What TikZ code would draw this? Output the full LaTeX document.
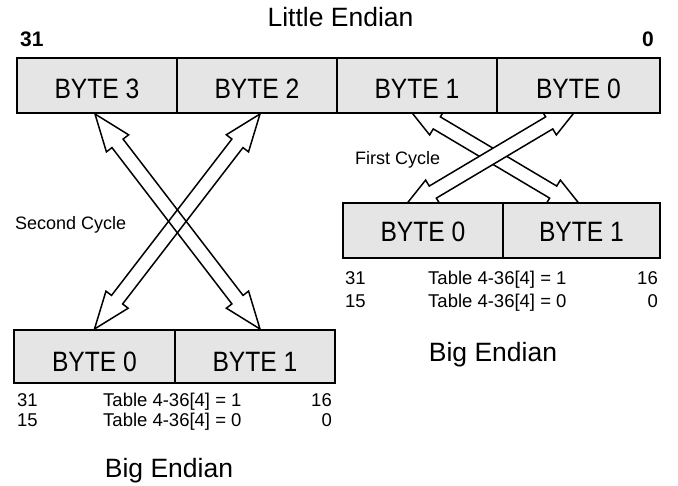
\documentclass[tikz,border=0pt]{standalone}
\usepackage{fontspec}
\setmainfont{Liberation Sans}
\newfontfamily\bytefont[FakeStretch=0.88]{Liberation Sans}
\usetikzlibrary{calc,backgrounds}

\newcommand\blockarr[3][]{%
  \draw[blockarrow,#1] (#2)
   -- ($(#2)!37pt!(#3)!14pt!90:(#3)$)
   -- ($(#2)!37pt!(#3)!7pt!90:(#3)$)
   -- ($(#3)!37pt!(#2)!7pt!-90:(#2)$)
   -- ($(#3)!37pt!(#2)!14pt!-90:(#2)$)
   -- (#3)
   -- ($(#3)!37pt!(#2)!14pt!90:(#2)$)
   -- ($(#3)!37pt!(#2)!7pt!90:(#2)$)
   -- ($(#2)!37pt!(#3)!7pt!-90:(#3)$)
   -- ($(#2)!37pt!(#3)!14pt!-90:(#3)$)
   -- cycle;}

\begin{document}
\begin{tikzpicture}[x=1pt,y=-1pt,
  cell/.style={draw=black, line width=2pt, fill=gray!20, inner sep=0pt,
    minimum height=55pt, text height=27pt, text depth=0pt,
    font=\bytefont\fontsize{28}{28}\selectfont},
  title/.style={font=\fontsize{26.5}{26.5}\selectfont, anchor=base, inner sep=0pt},
  bitno/.style={font=\bfseries\fontsize{21}{21}\selectfont, inner sep=0pt},
  small/.style={font=\fontsize{18}{18}\selectfont, inner sep=0pt},
  tbl/.style={font=\fontsize{18.5}{18.5}\selectfont, inner sep=0pt},
  blockarrow/.style={draw=black, line width=1.5pt, line join=miter},
]
\useasboundingbox (0,0) rectangle (678,486);

% Little endian word
\node[title] (lt) at (340.5,27) {Little Endian};
\node[bitno, anchor=base west] (n31) at (20,47) {31};
\node[bitno, anchor=base east] (n0) at (654,47) {0};
\node[cell, minimum width=160pt] (b3) at (97,85.5) {BYTE 3};
\node[cell, minimum width=160pt] (b2) at (257,85.5) {BYTE 2};
\node[cell, minimum width=160pt] (b1) at (417,85.5) {BYTE 1};
\node[cell, minimum width=163pt] (b0) at (578.5,85.5) {BYTE 0};

% Right big endian half-word (first cycle)
\node[cell, minimum width=160pt, text height=22.5pt] (r0) at (423,230.5) {BYTE 0};
\node[cell, minimum width=157pt, text height=22.5pt] (r1) at (581.5,230.5) {BYTE 1};
\node[tbl, anchor=base west] (r31) at (345,285) {31};
\node[tbl, anchor=base west] (rt1) at (428,285) {Table 4-36[4] = 1};
\node[tbl, anchor=base east] (r16) at (658,285) {16};
\node[tbl, anchor=base west] (r15) at (345,308) {15};
\node[tbl, anchor=base west] (rt0) at (428,308) {Table 4-36[4] = 0};
\node[tbl, anchor=base east] (rz) at (658,308) {0};
\node[title] (rbe) at (493,361.5) {Big Endian};

% Left big endian half-word (second cycle)
\node[cell, minimum width=161pt, minimum height=53pt, text height=31pt] (l0) at (94.5,356.5) {BYTE 0};
\node[cell, minimum width=160pt, minimum height=53pt, text height=31pt] (l1) at (255,356.5) {BYTE 1};
\node[tbl, anchor=base west] (l31) at (17,407) {31};
\node[tbl, anchor=base west] (lt1) at (103,407) {Table 4-36[4] = 1};
\node[tbl, anchor=base east] (l16) at (332,407) {16};
\node[tbl, anchor=base west] (l15) at (17,427) {15};
\node[tbl, anchor=base west] (lt0) at (103,427) {Table 4-36[4] = 0};
\node[tbl, anchor=base east] (lz) at (332,427) {0};
\node[title] (lbe) at (169,478) {Big Endian};

% cycle labels
\node[small, anchor=base west] (fc) at (355,165) {First Cycle};
\node[small, anchor=base west] (sc) at (15,230) {Second Cycle};

% arrow end points
\coordinate (sa1) at ($(b3.south)+(-2,0)$);
\coordinate (sa2) at ($(l1.north)+(5,0)$);
\coordinate (sb1) at ($(b2.south)+(3,0)$);
\coordinate (sb2) at (l0.north);
\coordinate (fa1) at ($(b1.south)+(-12,-10)$);
\coordinate (fa2) at ($(r1.north)+(3.5,9)$);
\coordinate (fb1) at ($(b0.south)+(2.5,-10)$);
\coordinate (fb2) at ($(r0.north)+(-22,9)$);

\begin{pgfonlayer}{background}
  \blockarr{sa1}{sa2}
  \blockarr{sb1}{sb2}
  \blockarr[fill=white]{fa1}{fa2}
  \blockarr[fill=white]{fb1}{fb2}
\end{pgfonlayer}
\end{tikzpicture}
\end{document}
